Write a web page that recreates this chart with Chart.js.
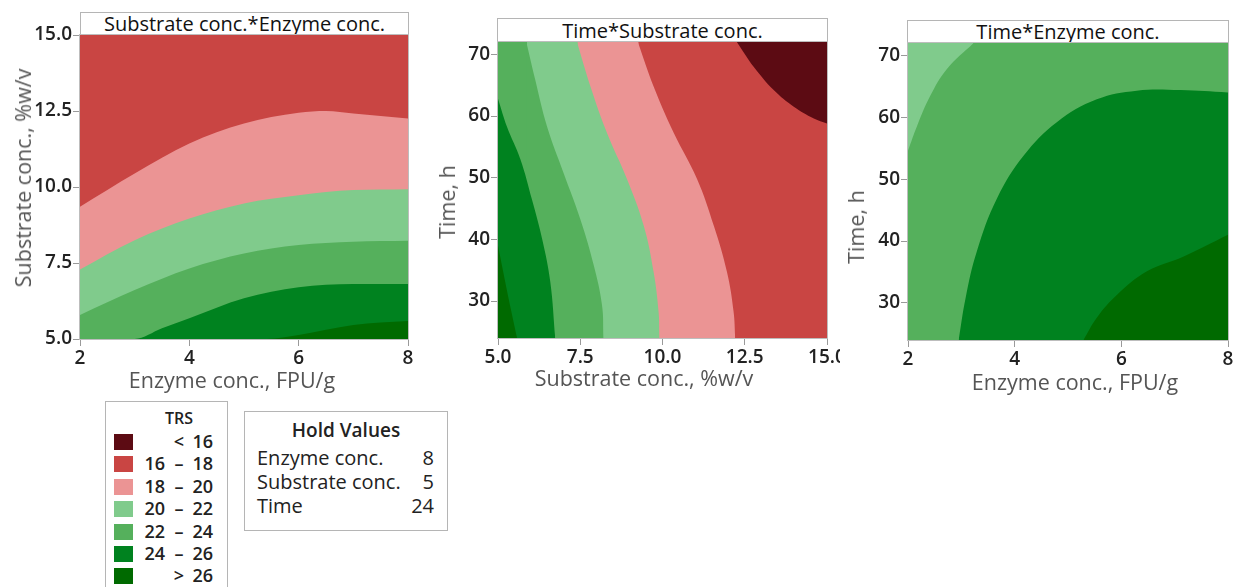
<!DOCTYPE html>
<html>
<head>
<meta charset="utf-8">
<script src="https://cdn.jsdelivr.net/npm/chart.js@4.4.0/dist/chart.umd.min.js"></script>
<style>
    body { margin: 0; background: #fff; width: 1239px; height: 587px; overflow: hidden; position: relative; font-family: "Open Sans", sans-serif; }
    canvas { position: absolute; top: 0; }
    .hdr { position: absolute; box-sizing: border-box; border: 1px solid #b5b5b5; border-bottom: none; background: #fff; text-align: center; font-size: 20px; color: #111; }
    .box { position: absolute; box-sizing: border-box; border: 1px solid #b5b5b5; background: #fff; color: #222; }
    .abs { position: absolute; white-space: nowrap; }
    .atitle { position: absolute; white-space: nowrap; font-size: 21.5px; line-height: 22px; color: #555; transform: translate(-50%, -50%); }
    .atitle.v { transform: translate(-50%, -50%) rotate(-90deg); }
</style>
</head>
<body>
<div class="hdr" style="left:80px;top:12px;width:329px;height:24px;line-height:22px;">Substrate conc.*Enzyme conc.</div>
<div class="hdr" style="left:497px;top:18px;width:331px;height:25px;line-height:23px;">Time*Substrate conc.</div>
<div class="hdr" style="left:907px;top:20px;width:322px;height:24px;line-height:22px;">Time*Enzyme conc.</div>

<canvas id="c1" width="420" height="400" style="left:0px"></canvas>
<canvas id="c2" width="420" height="400" style="left:420px"></canvas>
<canvas id="c3" width="409" height="400" style="left:830px"></canvas>

<div class="atitle v" style="left:23px;top:178px;">Substrate conc., %w/v</div>
<div class="atitle" style="left:232px;top:380px;">Enzyme conc., FPU/g</div>
<div class="atitle v" style="left:447px;top:202px;">Time, h</div>
<div class="atitle" style="left:644px;top:378px;">Substrate conc., %w/v</div>
<div class="atitle v" style="left:856px;top:227px;">Time, h</div>
<div class="atitle" style="left:1075px;top:382px;">Enzyme conc., FPU/g</div>

<div class="box" id="trsBox" style="left:105px;top:401px;width:123px;height:200px;"></div>
<div class="box" id="holdBox" style="left:244px;top:411px;width:204px;height:120px;"></div>

<script>
// ---------------------
// Data
// ---------------------
const trsLow = ['', '16', '18', '20', '22', '24', ''];
const trsOp = ['<', '–', '–', '–', '–', '–', '>'];
const trsHigh = ['16', '18', '20', '22', '24', '26', '26'];
const bandColors = ['#5c0b13', '#c94543', '#eb9494', '#80cb8c', '#55b05c', '#00821f', '#006a00'];

const holdNames = ['Enzyme conc.', 'Substrate conc.', 'Time'];
const holdValues = [8, 5, 24];

// panel 1: Substrate conc. (y) against Enzyme conc. (x)
const p1XRange = [2, 8];
const p1YRange = [5, 15];
const p1XTicks = [2, 4, 6, 8];
const p1YTicks = [5, 7.5, 10, 12.5, 15];
const p1c18X = [2, 3, 4, 5, 6, 6.5, 7, 8];
const p1c18Y = [9.35, 10.44, 11.43, 12.09, 12.44, 12.5, 12.42, 12.25];
const p1c20X = [2, 3, 4, 5, 6, 7, 8];
const p1c20Y = [7.29, 8.25, 8.96, 9.46, 9.73, 9.9, 9.93];
const p1c22X = [2, 3, 4, 5, 6, 7, 8];
const p1c22Y = [5.79, 6.61, 7.32, 7.81, 8.09, 8.2, 8.23];
const p1c24X = [2, 3, 3.5, 4, 5, 6, 7, 8];
const p1c24Y = [5, 5, 5.35, 5.68, 6.34, 6.7, 6.81, 6.81];
const p1c26X = [2, 5.42, 6, 7, 8];
const p1c26Y = [5, 5, 5.13, 5.46, 5.59];

// panel 2: Time (y) against Substrate conc. (x)
const p2XRange = [5, 15];
const p2YRange = [24, 72];
const p2XTicks = [5, 7.5, 10, 12.5, 15];
const p2YTicks = [30, 40, 50, 60, 70];
const p2c16X = [12.26, 12.52, 12.77, 13.38, 13.99, 14.6, 15];
const p2c16Y = [72, 69.9, 68.0, 64.2, 61.5, 59.6, 58.8];
const p2c18X = [9.25, 9.73, 10.34, 11.05, 11.56, 11.96, 12.16, 12.21];
const p2c18Y = [72, 64.8, 57.3, 49.8, 42.2, 34.7, 28.3, 24];
const p2c20X = [7.4, 7.81, 8.31, 8.92, 9.43, 9.73, 9.88, 9.91];
const p2c20Y = [72, 64.8, 57.3, 49.8, 42.2, 34.7, 28.3, 24];
const p2c22X = [5.86, 6.13, 6.49, 6.99, 7.5, 7.91, 8.16, 8.21];
const p2c22Y = [72, 65.9, 58.3, 50.8, 43.3, 35.8, 29.4, 24];
const p2c24X = [5, 5.27, 5.68, 6.03, 6.34, 6.59, 6.74];
const p2c24Y = [62.8, 58.3, 53, 46.5, 40.1, 33.1, 24];
const p2c26X = [5, 5.22, 5.43, 5.58];
const p2c26Y = [39, 33.1, 27.7, 24];

// panel 3: Time (y) against Enzyme conc. (x)
const p3XRange = [2, 8];
const p3YRange = [24, 72];
const p3XTicks = [2, 4, 6, 8];
const p3YTicks = [30, 40, 50, 60, 70];
const p3c22X = [2, 2.17, 2.42, 2.73, 3.23];
const p3c22Y = [54.6, 58.6, 63.5, 67.8, 72];
const p3c24X = [2.95, 3.08, 3.29, 3.67, 4.17, 4.79, 5.54, 6.29, 7.11, 8];
const p3c24Y = [24, 30.8, 38.3, 46.9, 53.8, 59.2, 62.9, 64.3, 64.4, 64.0];
const p3c26X = [5.29, 5.54, 5.92, 6.48, 7.17, 8];
const p3c26Y = [24, 27.6, 31.3, 35.1, 37.5, 41];

// ---------------------
// Helpers
// ---------------------
const FONT = '"Open Sans", sans-serif';

// a contour that leaves through the top edge: the part left of it is a plain block.
// the block runs a hair past the contour start so no seam shows between the two fills
function leftBlock(range, cx, yTop, band) {
    const overlap = (range[1] - range[0]) * 0.0025;
    return { xs: [range[0], cx[0] + overlap], ys: [yTop, yTop], band: band, fill: 'start' };
}

// layers are listed bottom to top; later ones paint over earlier ones
function layers(list, smooth) {
    return list.map((l, i) => ({
        data: l.xs.map((x, k) => ({ x: x, y: l.ys[k] })),
        fill: l.fill,
        backgroundColor: bandColors[l.band],
        borderColor: 'transparent',
        borderWidth: 0,
        pointRadius: 0,
        cubicInterpolationMode: smooth,
        tension: 0.4,
        order: list.length - i
    }));
}

function axis(pos, range, ticks, dec, size) {
    return {
        type: 'linear',
        position: pos,
        min: range[0],
        max: range[1],
        afterBuildTicks: s => { s.ticks = ticks.map(v => ({ value: v })); },
        afterFit: s => {
            if (pos === 'left') { s.width = size; s.paddingTop = 0; s.paddingBottom = 0; }
            else { s.height = size; s.paddingLeft = 0; s.paddingRight = 0; }
        },
        ticks: {
            autoSkip: false,
            maxRotation: 0,
            padding: 1,
            color: '#222',
            font: { family: FONT, size: 19, weight: '600' },
            callback: v => Number(v).toFixed(dec)
        },
        grid: { display: true, drawOnChartArea: false, drawTicks: true, tickLength: 7, color: '#9a9a9a' },
        border: { display: false },
        title: { display: false }
    };
}

const frame = {
    id: 'frame',
    afterDatasetsDraw(chart) {
        const a = chart.chartArea;
        const ctx = chart.ctx;
        ctx.save();
        ctx.strokeStyle = '#bdbdbd';
        ctx.lineWidth = 1;
        ctx.strokeRect(Math.round(a.left) - 0.5, Math.round(a.top) - 0.5, Math.round(a.right - a.left) + 1, Math.round(a.bottom - a.top) + 1);
        ctx.restore();
    }
};

function makeChart(id, datasets, xs, ys, padding) {
    return new Chart(document.getElementById(id), {
        type: 'line',
        data: { datasets: datasets },
        options: {
            responsive: false,
            animation: false,
            devicePixelRatio: 1,
            layout: { padding: padding },
            plugins: { legend: { display: false }, tooltip: { enabled: false }, filler: { propagate: false } },
            scales: { x: xs, y: ys }
        },
        plugins: [frame]
    });
}

// ---------------------
// Panels
// ---------------------
makeChart('c1', layers([
    { xs: p1XRange, ys: [p1YRange[1], p1YRange[1]], band: 1, fill: 'start' },
    { xs: p1c18X, ys: p1c18Y, band: 2, fill: 'start' },
    { xs: p1c20X, ys: p1c20Y, band: 3, fill: 'start' },
    { xs: p1c22X, ys: p1c22Y, band: 4, fill: 'start' },
    { xs: p1c24X, ys: p1c24Y, band: 5, fill: 'start' },
    { xs: p1c26X, ys: p1c26Y, band: 6, fill: 'start' }
], 'monotone'),
    axis('bottom', p1XRange, p1XTicks, 0, 61),
    axis('left', p1YRange, p1YTicks, 1, 80),
    { left: 0, right: 12, top: 35, bottom: 0 });

const p2Top = p2YRange[1];
makeChart('c2', layers([
    { xs: p2XRange, ys: [p2Top, p2Top], band: 1, fill: 'start' },
    { xs: p2c16X, ys: p2c16Y, band: 0, fill: 'end' },
    leftBlock(p2XRange, p2c18X, p2Top, 2),
    { xs: p2c18X, ys: p2c18Y, band: 2, fill: 'start' },
    leftBlock(p2XRange, p2c20X, p2Top, 3),
    { xs: p2c20X, ys: p2c20Y, band: 3, fill: 'start' },
    leftBlock(p2XRange, p2c22X, p2Top, 4),
    { xs: p2c22X, ys: p2c22Y, band: 4, fill: 'start' },
    { xs: p2c24X, ys: p2c24Y, band: 5, fill: 'start' },
    { xs: p2c26X, ys: p2c26Y, band: 6, fill: 'start' }
], 'default'),
    axis('bottom', p2XRange, p2XTicks, 1, 62),
    axis('left', p2YRange, p2YTicks, 0, 78),
    { left: 0, right: 13, top: 42, bottom: 0 });

makeChart('c3', layers([
    { xs: p3XRange, ys: [p3YRange[1], p3YRange[1]], band: 4, fill: 'start' },
    { xs: p3c22X, ys: p3c22Y, band: 3, fill: 'end' },
    { xs: p3c24X, ys: p3c24Y, band: 5, fill: 'start' },
    { xs: p3c26X, ys: p3c26Y, band: 6, fill: 'start' }
], 'default'),
    axis('bottom', p3XRange, p3XTicks, 0, 60),
    axis('left', p3YRange, p3YTicks, 0, 78),
    { left: 0, right: 11, top: 43, bottom: 0 });

// ---------------------
// Legend boxes
// ---------------------
const trsBox = document.getElementById('trsBox');
let html = '<div class="abs" style="left:0;width:146px;text-align:center;top:5px;font-size:16px;font-weight:600;">TRS</div>';
trsHigh.forEach((hi, i) => {
    const top = 32 + i * 22.4;
    html += `<div class="abs" style="left:8px;top:${top}px;width:19px;height:16px;background:${bandColors[i]}"></div>`;
    html += `<div class="abs" style="left:20px;width:39px;text-align:right;top:${top - 5}px;font-size:18px;font-weight:600;">${trsLow[i]}</div>`;
    html += `<div class="abs" style="left:65px;width:16px;text-align:center;top:${top - 5}px;font-size:18px;font-weight:600;">${trsOp[i]}</div>`;
    html += `<div class="abs" style="left:78px;width:29px;text-align:right;top:${top - 5}px;font-size:18px;font-weight:600;">${hi}</div>`;
});
trsBox.innerHTML = html;

const holdBox = document.getElementById('holdBox');
let h2 = '<div class="abs" style="left:0;width:202px;text-align:center;top:5px;font-size:19px;font-weight:600;">Hold Values</div>';
holdNames.forEach((n, i) => {
    const top = 32 + i * 24.2;
    h2 += `<div class="abs" style="left:12px;top:${top}px;font-size:20px;">${n}</div>`;
    h2 += `<div class="abs" style="right:13px;top:${top}px;font-size:20px;">${holdValues[i]}</div>`;
});
holdBox.innerHTML = h2;
</script>
</body>
</html>
